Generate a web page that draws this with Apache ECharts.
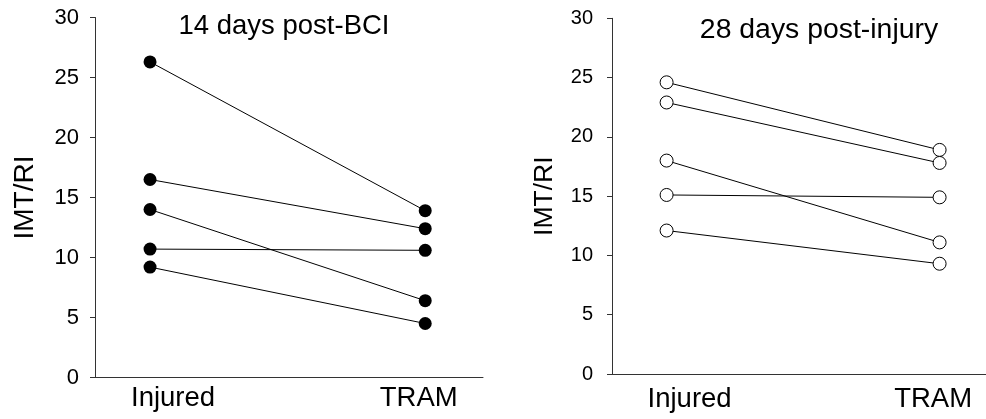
<!DOCTYPE html>
<html>
<head>
<meta charset="utf-8">
<script src="https://cdn.jsdelivr.net/npm/echarts@6/dist/echarts.min.js"></script>
<style>html,body{margin:0;padding:0;background:#fff}#c{width:986px;height:419px}</style>
</head>
<body>
<div id="c"></div>
<script>
// Data
const categories = ['Injured', 'TRAM'];
const injured14 = [26.3, 16.5, 14.0, 10.7, 9.2];
const tram14 = [13.9, 12.4, 6.4, 10.6, 4.5];
const injured28 = [24.6, 22.9, 18.0, 15.1, 12.1];
const tram28 = [18.9, 17.8, 11.1, 14.9, 9.3];
const panelTitles = ['14 days post-BCI', '28 days post-injury'];
const yName = 'IMT/RI';

const FONT = '"Liberation Sans", Arial, Helvetica, sans-serif';
const chart = echarts.init(document.getElementById('c'), null, {renderer: 'canvas'});

function xAxisFor(gi, max, margin) {
  return {
    type: 'value', gridIndex: gi, min: -0.2, max: max,
    axisLine: {show: true, onZero: false, lineStyle: {color: '#333', width: 1}},
    axisTick: {show: false},
    splitLine: {show: false},
    axisLabel: {
      customValues: [0, 1],
      margin: margin,
      formatter: function (v) { return v === 0 ? '{a|' + categories[0] + '}' : '{b|' + categories[1] + '}'; },
      rich: {
        a: {fontSize: 27.5, fontFamily: FONT, color: '#000', padding: [0, 0, 0, 46]},
        b: {fontSize: 27.5, fontFamily: FONT, color: '#000', padding: [0, 13, 0, 0]}
      }
    }
  };
}
function yAxisFor(gi, labelSize, labelMargin, nameSize, nameGap) {
  return {
    type: 'value', gridIndex: gi, min: 0, max: 30, interval: 5,
    axisLine: {show: true, onZero: false, lineStyle: {color: '#333', width: 1}},
    axisTick: {show: true, length: 5, inside: false, lineStyle: {color: '#333'}},
    splitLine: {show: false},
    axisLabel: {fontSize: labelSize, fontFamily: FONT, color: '#000', margin: labelMargin},
    name: yName, nameLocation: 'middle', nameRotate: 90, nameGap: nameGap,
    nameTextStyle: {fontSize: nameSize, fontFamily: FONT, color: '#000'}
  };
}

const series = [];
injured14.forEach(function (v, i) {
  series.push({
    type: 'line', xAxisIndex: 0, yAxisIndex: 0,
    data: [[0, v], [1, tram14[i]]],
    symbol: 'circle', symbolSize: 13,
    lineStyle: {color: '#000', width: 1},
    itemStyle: {color: '#000'},
    silent: true
  });
});
injured28.forEach(function (v, i) {
  series.push({
    type: 'line', xAxisIndex: 1, yAxisIndex: 1,
    data: [[0, v], [1, tram28[i]]],
    symbol: 'circle', symbolSize: 13,
    lineStyle: {color: '#000', width: 1},
    itemStyle: {color: '#fff', borderColor: '#000', borderWidth: 1},
    silent: true
  });
});

chart.setOption({
  animation: false,
  backgroundColor: '#fff',
  title: [
    {text: panelTitles[0], left: 284, top: 12, textAlign: 'center', padding: 0,
     textStyle: {fontSize: 27.5, fontWeight: 'normal', fontFamily: FONT, color: '#000'}},
    {text: panelTitles[1], left: 819, top: 16, textAlign: 'center', padding: 0,
     textStyle: {fontSize: 28.4, fontWeight: 'normal', fontFamily: FONT, color: '#000'}}
  ],
  grid: [
    {left: 95, top: 17.5, width: 388, height: 360, containLabel: false},
    {left: 612, top: 18.3, width: 374, height: 355.7, containLabel: false}
  ],
  xAxis: [xAxisFor(0, 1.21, 7), xAxisFor(1, 1.17, 11)],
  yAxis: [yAxisFor(0, 22, 16, 28, 56), yAxisFor(1, 20, 19, 26.5, 54)],
  series: series
});
</script>
</body>
</html>
